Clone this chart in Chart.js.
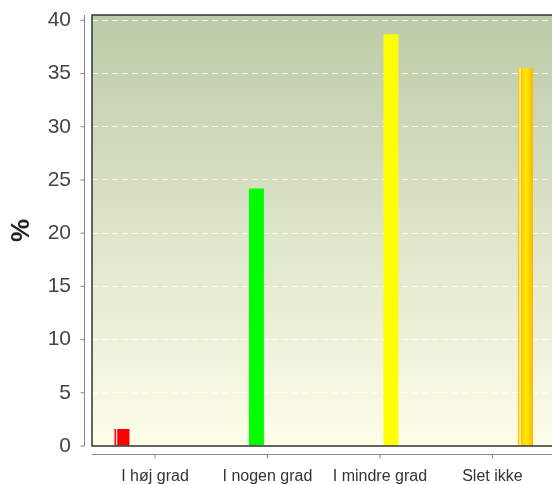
<!DOCTYPE html>
<html>
<head>
<meta charset="utf-8">
<script src="https://cdn.jsdelivr.net/npm/chart.js@4"></script>
<style>
  body { margin: 0; background: #fff; }
</style>
</head>
<body>
<canvas id="myGraph" width="552" height="484"></canvas>
<script>
const categories = ['I høj grad', 'I nogen grad', 'I mindre grad', 'Slet ikke'];
const values = [1.6, 24.2, 38.7, 35.5];
const barColors = ['#FF0000', '#00FF00', '#FFFF00', '#FFD000'];
const yTicks = [0, 5, 10, 15, 20, 25, 30, 35, 40];

const graph = document.getElementById('myGraph');

// background, frame and the detached R-style axes
const frame = {
  id: 'frame',
  beforeDraw(chart) {
    const { ctx, chartArea: a } = chart;
    const g = ctx.createLinearGradient(0, a.top, 0, a.bottom);
    g.addColorStop(0, '#BCCBA8');
    g.addColorStop(1, '#FEFEE9');
    ctx.save();
    ctx.fillStyle = g;
    ctx.fillRect(a.left, a.top, a.right - a.left, a.bottom - a.top);
    ctx.restore();
  },
  afterDatasetsDraw(chart) {
    const { ctx, chartArea: a } = chart;
    ctx.save();
    // shine on the red and gold bars
    [0, 3].forEach(i => {
      const el = chart.getDatasetMeta(i).data[0];
      if (!el) return;
      const { x, y, base, width } = el.getProps(['x', 'y', 'base', 'width'], true);
      const l = x - width / 2;
      if (i === 3) {
        const g = ctx.createLinearGradient(l, 0, l + width, 0);
        g.addColorStop(0, '#FFC400');
        g.addColorStop(0.2, '#FFC400');
        g.addColorStop(0.55, '#FFEC00');
        g.addColorStop(1, '#FFB400');
        ctx.fillStyle = g;
        ctx.fillRect(l, y, width, base - y);
      }
      ctx.fillStyle = 'rgba(255,255,255,0.85)';
      ctx.fillRect(l + 1.5, y, 1.3, base - y);
    });
    ctx.strokeStyle = '#333';
    ctx.lineWidth = 1.5;
    ctx.beginPath();
    ctx.moveTo(a.right + 2, a.top);
    ctx.lineTo(a.left, a.top);
    ctx.lineTo(a.left, a.bottom);
    ctx.lineTo(a.right + 2, a.bottom);
    ctx.stroke();
    ctx.restore();
  },
  afterDraw(chart) {
    const { ctx, chartArea: a, scales } = chart;
    ctx.save();
    ctx.strokeStyle = '#888';
    ctx.lineWidth = 1;
    ctx.beginPath();
    const ax = a.left - 7.5;
    ctx.moveTo(ax, a.top);
    ctx.lineTo(ax, a.bottom);
    yTicks.forEach(v => {
      const py = scales.y.getPixelForValue(v);
      ctx.moveTo(ax - 4, py);
      ctx.lineTo(ax, py);
    });
    const ay = a.bottom + 8.5;
    ctx.moveTo(a.left, ay);
    ctx.lineTo(a.right, ay);
    categories.forEach((c, i) => {
      const px = scales.x.getPixelForValue(i);
      ctx.moveTo(px, ay);
      ctx.lineTo(px, ay + 4);
    });
    ctx.stroke();
    ctx.restore();
  }
};

new Chart(graph, {
  type: 'bar',
  data: {
    datasets: categories.map((c, i) => ({
      label: c,
      data: [{ x: i, y: values[i] }],
      backgroundColor: barColors[i],
      borderWidth: 0,
      categoryPercentage: 0.783,
      barPercentage: 0.68
    }))
  },
  options: {
    responsive: false,
    animation: false,
    layout: { padding: { top: 15, left: 0, right: 0, bottom: 0 } },
    plugins: { legend: { display: false }, tooltip: { enabled: false } },
    scales: {
      x: {
        type: 'linear',
        offset: false,
        min: -0.56,
        max: 3.53,
        afterBuildTicks: s => { s.ticks = categories.map((c, i) => ({ value: i })); },
        afterFit: s => {
          s.height = 38;
          s.paddingLeft = 0; s.paddingRight = 0; s.paddingTop = 0; s.paddingBottom = 0;
        },
        grid: { display: false, drawTicks: false },
        border: { display: false },
        ticks: {
          autoSkip: false,
          maxRotation: 0,
          padding: 21,
          color: '#333',
          font: { family: 'Liberation Sans', size: 16 },
          callback: v => categories[v]
        }
      },
      y: {
        min: 0,
        max: 40.5,
        afterBuildTicks: s => { s.ticks = yTicks.map(v => ({ value: v })); },
        afterFit: s => {
          s.width = 92;
          s.paddingLeft = 0; s.paddingRight = 0; s.paddingTop = 0; s.paddingBottom = 0;
        },
        grid: { color: 'rgba(255,255,255,0.85)', lineWidth: 1, drawTicks: false },
        border: { display: false, dash: [6, 4] },
        ticks: {
          padding: 21,
          color: '#444',
          font: { family: 'Liberation Sans', size: 21 }
        },
        title: {
          display: true,
          text: '%',
          color: '#222',
          padding: { top: 6, bottom: 0 },
          font: { family: 'Liberation Sans', size: 26, weight: 'bold' }
        }
      }
    }
  },
  plugins: [frame]
});
</script>
</body>
</html>
